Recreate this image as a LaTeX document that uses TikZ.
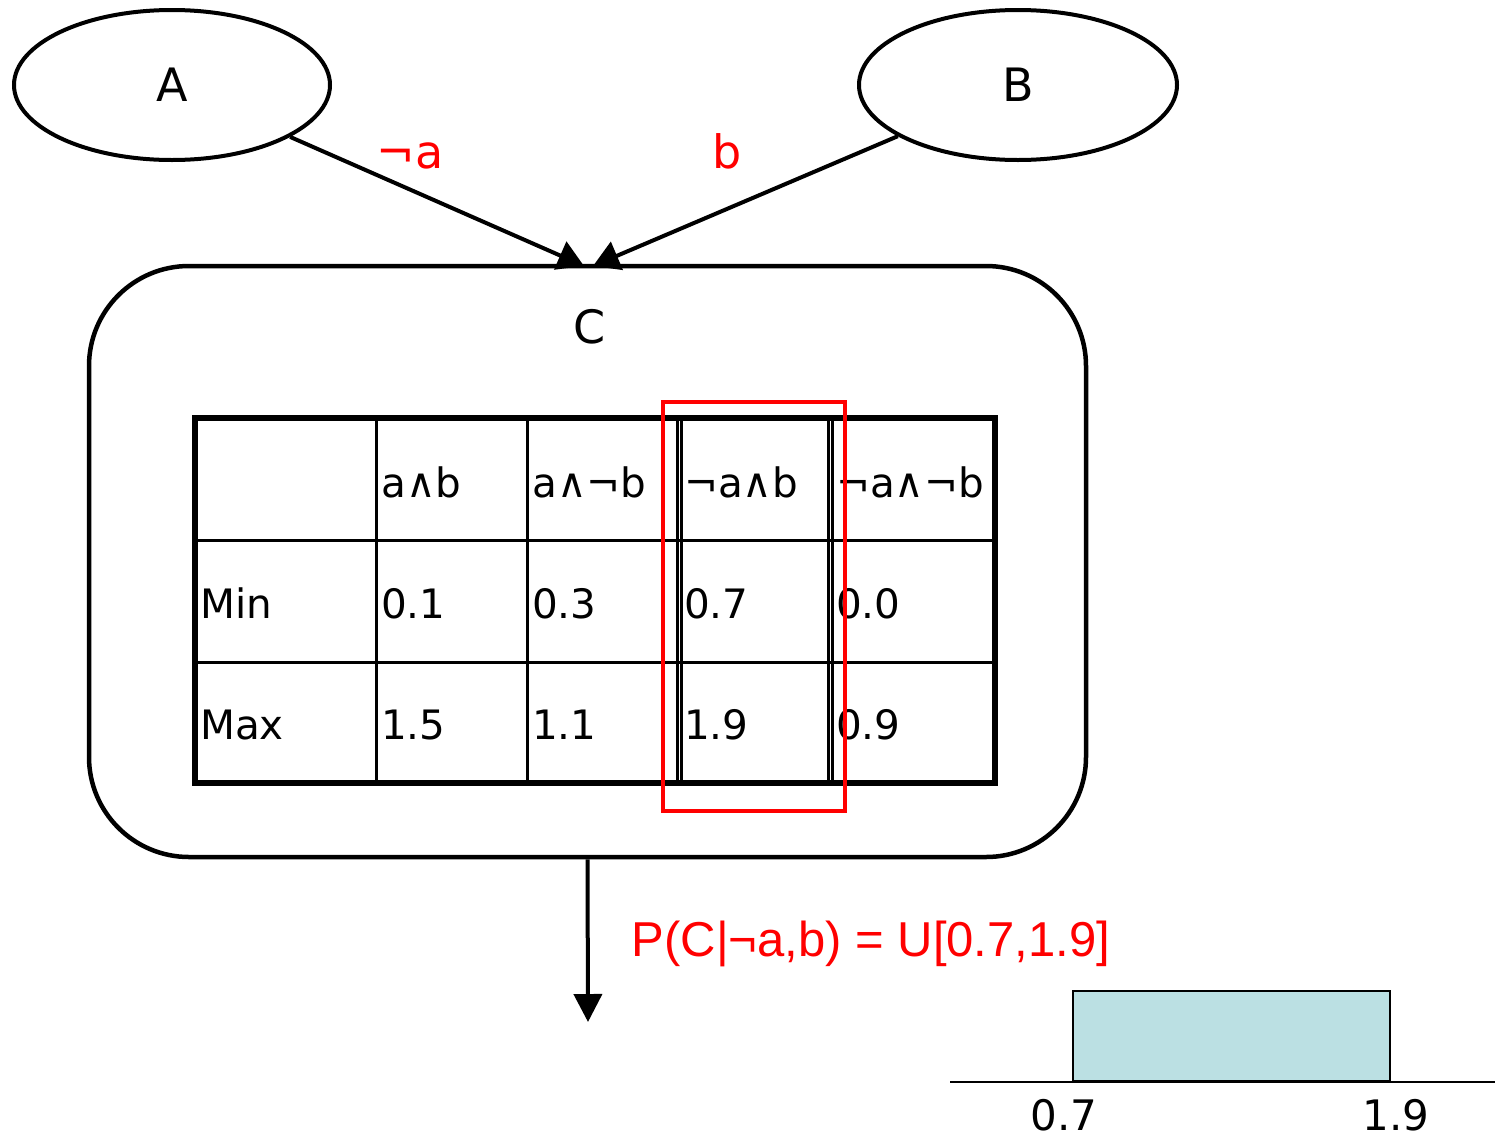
\documentclass[tikz,border=0pt]{standalone}
\usepackage{fontspec}
\setmainfont{DejaVu Sans}
\newfontfamily\arialf{Liberation Sans}
\usetikzlibrary{shapes.geometric,arrows.meta}
\definecolor{plotblue}{HTML}{BBE0E3}
\tikzset{
  big/.style={font=\fontsize{46}{50}\selectfont},
  cell/.style={font=\fontsize{40.5}{44}\selectfont, inner sep=0pt, anchor=base west},
  redlab/.style={font=\fontsize{46}{50}\selectfont, text=red, inner sep=0pt, anchor=base},
  arr/.style={line width=4pt, -{Triangle[length=26pt,width=30pt]}},
  thin/.style={line width=3pt},
  thick/.style={line width=6pt},
}
\begin{document}
\begin{tikzpicture}[x=1pt,y=-1pt]
\useasboundingbox (0,0) rectangle (1501,1138);
% nodes A, B
\node[ellipse, draw, line width=4pt, minimum width=316pt, minimum height=150pt, inner sep=0pt, big] (A) at (172,85) {A};
\node[ellipse, draw, line width=4pt, minimum width=318pt, minimum height=150pt, inner sep=0pt, big] (B) at (1018,85) {B};
% box C
\node[draw, line width=4.5pt, rounded corners=100pt, minimum width=997pt, minimum height=591pt, inner sep=0pt] (Cbox) at (587.5,561.5) {};
\node[big, inner sep=0pt, anchor=base] (Clab) at (590,343) {C};
% connectors
\coordinate (tipA) at (584,266);
\coordinate (tipB) at (593,266);
\draw[arr] (A) -- (tipA);
\draw[arr] (B) -- (tipB);
\node[redlab] (na) at (410,168) {¬a};
\node[redlab] (lb) at (727,168) {b};
\coordinate (outC) at (588,1022);
\draw[line width=4pt, -{Triangle[length=28pt,width=28pt]}] (Cbox.south) -- (outC);
% table
\draw[thick] (195,418) rectangle (995,783);
\draw[thin] (195,540) -- (995,540);
\draw[thin] (195,662) -- (995,662);
\draw[thin] (376,418) -- (376,783);
\draw[thin] (527,418) -- (527,783);
\draw[thin] (677,418) -- (677,783);
\draw[thin] (681,418) -- (681,783);
\draw[thin] (828,418) -- (828,783);
\draw[thin] (832,418) -- (832,783);
% header
\node[cell] (h1) at (381,497) {a∧b};
\node[cell] (h2) at (532,497) {a∧¬b};
\node[cell] (h3) at (684,497) {¬a∧b};
\node[cell] (h4) at (836,497) {¬a∧¬b};
% rows
\node[cell] (rmin) at (200,618) {Min};
\node[cell] (m1) at (381,618) {0.1};
\node[cell] (m2) at (532,618) {0.3};
\node[cell] (m3) at (684,618) {0.7};
\node[cell] (m4) at (836,618) {0.0};
\node[cell] (rmax) at (200,739) {Max};
\node[cell] (x1) at (381,739) {1.5};
\node[cell] (x2) at (532,739) {1.1};
\node[cell] (x3) at (684,739) {1.9};
\node[cell] (x4) at (836,739) {0.9};
% red selection box
\node[draw=red, line width=4pt, minimum width=182pt, minimum height=409pt, inner sep=0pt] (sel) at (754,606.5) {};
% formula
\node[font=\arialf\fontsize{49}{53}\selectfont, text=red, inner sep=0pt, anchor=base] (pf) at (871,956) {P(C|¬a,b) = U[0.7,1.9]};
% plot
\node[draw, fill=plotblue, line width=2pt, minimum width=317pt, minimum height=90pt, inner sep=0pt, anchor=south west] (ubox) at (1072,1082) {};
\coordinate (axL) at (950,1082);
\coordinate (axR) at (1495,1082);
\draw[line width=2pt] (axL) -- (axR);
\node[font=\fontsize{42}{46}\selectfont, inner sep=0pt, anchor=base] (l07) at (1064,1130) {0.7};
\node[font=\fontsize{42}{46}\selectfont, inner sep=0pt, anchor=base] (l19) at (1396,1130) {1.9};
\end{tikzpicture}
\end{document}
